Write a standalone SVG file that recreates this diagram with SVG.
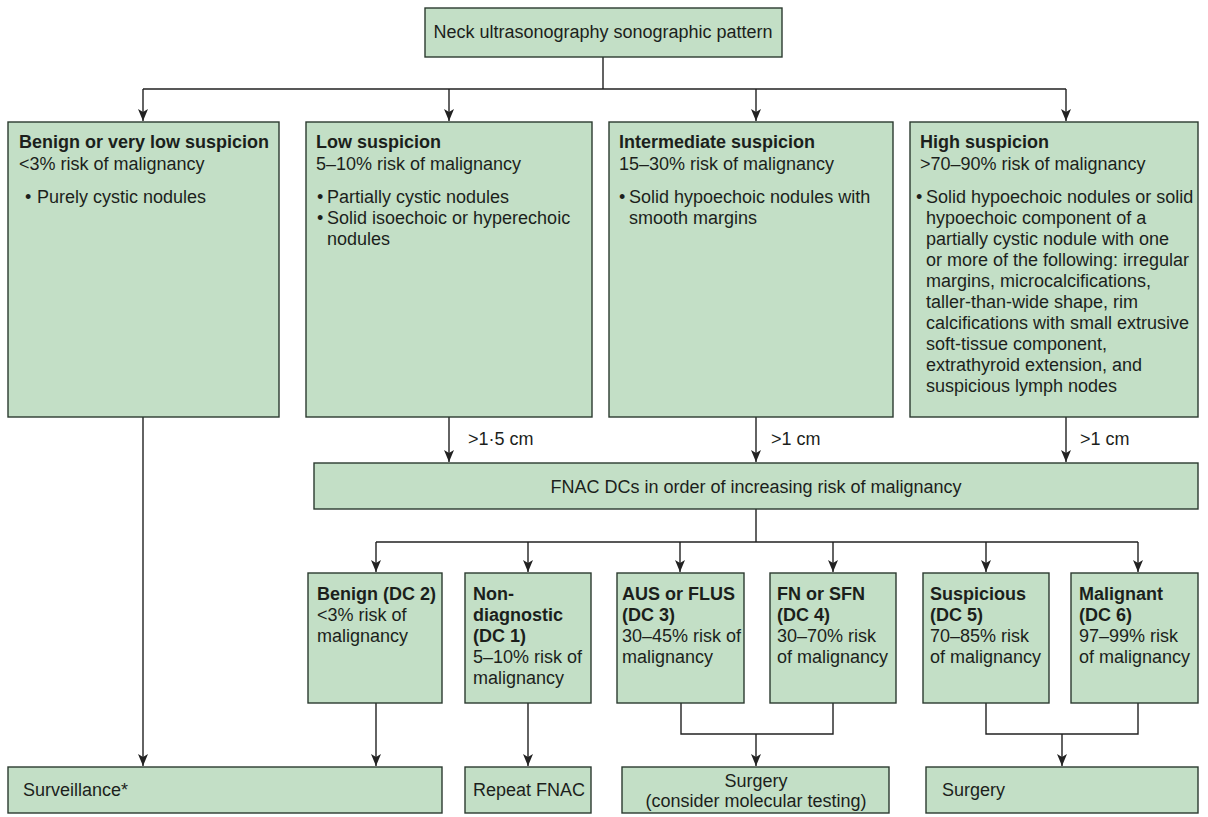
<svg xmlns="http://www.w3.org/2000/svg" width="1208" height="817" viewBox="0 0 1208 817">
  <style>
    .box { fill: #c3dfc6; stroke: #2b3a2f; stroke-width: 1.4; }
    .t { font-family: "Liberation Sans", Arial, sans-serif; font-size: 18px; fill: #1c1f1c; }
    .b { font-weight: bold; }
    .mid { text-anchor: middle; }
    .wire { fill: none; stroke: #222; stroke-width: 1.4; }
  </style>
  <defs>
    <marker id="arrow" markerUnits="userSpaceOnUse" markerWidth="13" markerHeight="11" refX="12" refY="5" orient="auto">
      <path d="M0,0 L12,5 L0,10 L3,5 z" fill="#222"/>
    </marker>
  </defs>

  <rect width="1208" height="817" fill="#ffffff"/>

  <!-- connectors -->
  <g id="connectors">
    <path class="wire" d="M603,57 V89 M143,89 H1066"/>
    <path class="wire" d="M143,89 V121" marker-end="url(#arrow)"/>
    <path class="wire" d="M449,89 V121" marker-end="url(#arrow)"/>
    <path class="wire" d="M756,89 V121" marker-end="url(#arrow)"/>
    <path class="wire" d="M1066,89 V121" marker-end="url(#arrow)"/>

    <path class="wire" d="M449,417 V462" marker-end="url(#arrow)"/>
    <path class="wire" d="M756,417 V462" marker-end="url(#arrow)"/>
    <path class="wire" d="M1066,417 V462" marker-end="url(#arrow)"/>

    <path class="wire" d="M756,509 V542 M376,542 H1138"/>
    <path class="wire" d="M376,542 V572" marker-end="url(#arrow)"/>
    <path class="wire" d="M528,542 V572" marker-end="url(#arrow)"/>
    <path class="wire" d="M680,542 V572" marker-end="url(#arrow)"/>
    <path class="wire" d="M833,542 V572" marker-end="url(#arrow)"/>
    <path class="wire" d="M986,542 V572" marker-end="url(#arrow)"/>
    <path class="wire" d="M1138,542 V572" marker-end="url(#arrow)"/>

    <path class="wire" d="M143,417 V766" marker-end="url(#arrow)"/>
    <path class="wire" d="M376,703 V766" marker-end="url(#arrow)"/>
    <path class="wire" d="M528,703 V766" marker-end="url(#arrow)"/>

    <path class="wire" d="M681,703 V734 H833 V703"/>
    <path class="wire" d="M756,734 V766" marker-end="url(#arrow)"/>
    <path class="wire" d="M986,703 V734 H1138 V703"/>
    <path class="wire" d="M1062,734 V766" marker-end="url(#arrow)"/>

    <text class="t" x="468" y="445">&gt;1·5 cm</text>
    <text class="t" x="771" y="445">&gt;1 cm</text>
    <text class="t" x="1080" y="445">&gt;1 cm</text>
  </g>

  <g id="pattern">
    <rect class="box" x="425" y="8" width="357" height="49"/>
    <text class="t mid" x="603" y="38">Neck ultrasonography sonographic pattern</text>
  </g>

  <g id="benign-very-low">
    <rect class="box" x="8" y="122" width="271" height="295"/>
    <text class="t b" x="19" y="148">Benign or very low suspicion</text>
    <text class="t" x="19" y="170">&lt;3% risk of malignancy</text>
    <text class="t" x="25" y="203">•</text>
    <text class="t" x="37" y="203">Purely cystic nodules</text>
  </g>

  <g id="low">
    <rect class="box" x="306" y="122" width="286" height="295"/>
    <text class="t b" x="316" y="148">Low suspicion</text>
    <text class="t" x="316" y="170">5–10% risk of malignancy</text>
    <text class="t" x="317" y="203">•</text>
    <text class="t" x="327" y="203">Partially cystic nodules</text>
    <text class="t" x="317" y="224">•</text>
    <text class="t" x="327" y="224">Solid isoechoic or hyperechoic</text>
    <text class="t" x="327" y="245">nodules</text>
  </g>

  <g id="intermediate">
    <rect class="box" x="609" y="122" width="284" height="295"/>
    <text class="t b" x="619" y="148">Intermediate suspicion</text>
    <text class="t" x="619" y="170">15–30% risk of malignancy</text>
    <text class="t" x="619" y="203">•</text>
    <text class="t" x="629" y="203">Solid hypoechoic nodules with</text>
    <text class="t" x="629" y="224">smooth margins</text>
  </g>

  <g id="high">
    <rect class="box" x="910" y="122" width="288" height="295"/>
    <text class="t b" x="920" y="148">High suspicion</text>
    <text class="t" x="920" y="170">&gt;70–90% risk of malignancy</text>
    <text class="t" x="916" y="203">•</text>
    <text class="t" x="926" y="203">Solid hypoechoic nodules or solid</text>
    <text class="t" x="926" y="224">hypoechoic component of a</text>
    <text class="t" x="926" y="245">partially cystic nodule with one</text>
    <text class="t" x="926" y="266">or more of the following: irregular</text>
    <text class="t" x="926" y="287">margins, microcalcifications,</text>
    <text class="t" x="926" y="308">taller-than-wide shape, rim</text>
    <text class="t" x="926" y="329">calcifications with small extrusive</text>
    <text class="t" x="926" y="350">soft-tissue component,</text>
    <text class="t" x="926" y="371">extrathyroid extension, and</text>
    <text class="t" x="926" y="392">suspicious lymph nodes</text>
  </g>

  <g id="fnac">
    <rect class="box" x="314" y="463" width="884" height="46"/>
    <text class="t mid" x="756" y="493">FNAC DCs in order of increasing risk of malignancy</text>
  </g>

  <g id="dc2">
    <rect class="box" x="308" y="573" width="134" height="130"/>
    <text class="t b" x="317" y="600">Benign (DC 2)</text>
    <text class="t" x="317" y="621">&lt;3% risk of</text>
    <text class="t" x="317" y="642">malignancy</text>
  </g>

  <g id="dc1">
    <rect class="box" x="465" y="573" width="126" height="130"/>
    <text class="t b" x="473" y="600">Non-</text>
    <text class="t b" x="473" y="621">diagnostic</text>
    <text class="t b" x="473" y="642">(DC 1)</text>
    <text class="t" x="473" y="663">5–10% risk of</text>
    <text class="t" x="473" y="684">malignancy</text>
  </g>

  <g id="dc3">
    <rect class="box" x="617" y="573" width="127" height="130"/>
    <text class="t b" x="622" y="600">AUS or FLUS</text>
    <text class="t b" x="622" y="621">(DC 3)</text>
    <text class="t" x="622" y="642">30–45% risk of</text>
    <text class="t" x="622" y="663">malignancy</text>
  </g>

  <g id="dc4">
    <rect class="box" x="770" y="573" width="126" height="130"/>
    <text class="t b" x="777" y="600">FN or SFN</text>
    <text class="t b" x="777" y="621">(DC 4)</text>
    <text class="t" x="777" y="642">30–70% risk</text>
    <text class="t" x="777" y="663">of malignancy</text>
  </g>

  <g id="dc5">
    <rect class="box" x="923" y="573" width="126" height="130"/>
    <text class="t b" x="930" y="600">Suspicious</text>
    <text class="t b" x="930" y="621">(DC 5)</text>
    <text class="t" x="930" y="642">70–85% risk</text>
    <text class="t" x="930" y="663">of malignancy</text>
  </g>

  <g id="dc6">
    <rect class="box" x="1071" y="573" width="127" height="130"/>
    <text class="t b" x="1079" y="600">Malignant</text>
    <text class="t b" x="1079" y="621">(DC 6)</text>
    <text class="t" x="1079" y="642">97–99% risk</text>
    <text class="t" x="1079" y="663">of malignancy</text>
  </g>

  <g id="surveillance">
    <rect class="box" x="8" y="767" width="434" height="46"/>
    <text class="t" x="23" y="796">Surveillance*</text>
  </g>

  <g id="repeat-fnac">
    <rect class="box" x="465" y="767" width="126" height="46"/>
    <text class="t" x="473" y="796">Repeat FNAC</text>
  </g>

  <g id="surgery-molecular">
    <rect class="box" x="622" y="767" width="267" height="46"/>
    <text class="t mid" x="756" y="787">Surgery</text>
    <text class="t mid" x="756" y="807">(consider molecular testing)</text>
  </g>

  <g id="surgery">
    <rect class="box" x="926" y="767" width="272" height="46"/>
    <text class="t" x="942" y="796">Surgery</text>
  </g>
</svg>
